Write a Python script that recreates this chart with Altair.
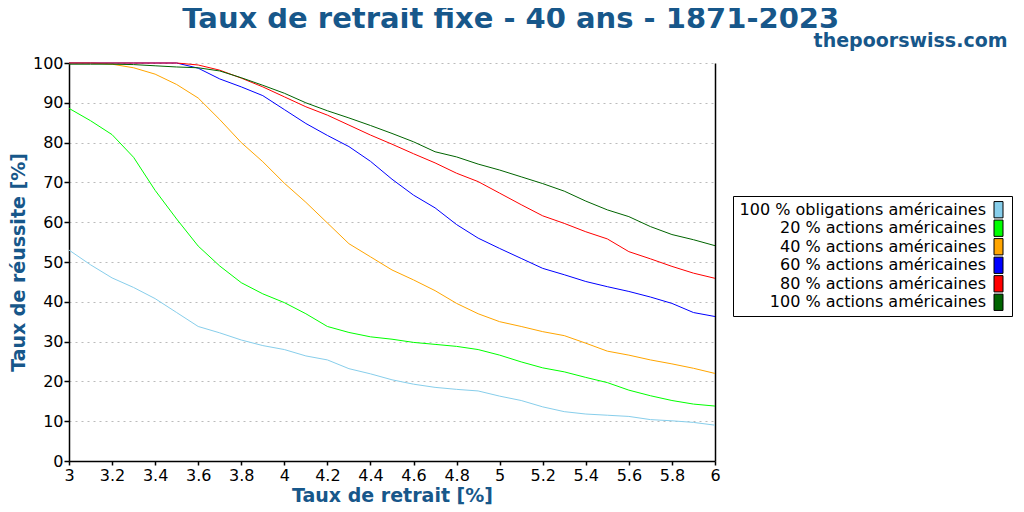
import altair as alt
import pandas as pd

rates = [3.0, 3.1, 3.2, 3.3, 3.4, 3.5, 3.6, 3.7, 3.8, 3.9,
         4.0, 4.1, 4.2, 4.3, 4.4, 4.5, 4.6, 4.7, 4.8, 4.9,
         5.0, 5.1, 5.2, 5.3, 5.4, 5.5, 5.6, 5.7, 5.8, 5.9, 6.0]

names = ["100 % obligations américaines", "20 % actions américaines",
         "40 % actions américaines", "60 % actions américaines",
         "80 % actions américaines", "100 % actions américaines"]
colors = ["#87ceeb", "#00ff00", "#ffa500", "#0000ff", "#ff0000", "#006400"]

bonds100 = [53.0, 49.3, 46.0, 43.6, 40.8, 37.3, 33.8, 32.2, 30.4, 29.0,
            28.0, 26.4, 25.4, 23.2, 21.9, 20.4, 19.3, 18.5, 18.0, 17.6,
            16.3, 15.2, 13.6, 12.4, 11.8, 11.5, 11.2, 10.4, 10.1, 9.7, 9.0]
stocks20 = [88.6, 85.5, 82.0, 76.3, 68.0, 60.8, 54.0, 49.0, 44.8, 42.0,
            39.8, 37.0, 33.8, 32.3, 31.2, 30.6, 29.8, 29.3, 28.8, 28.0,
            26.6, 24.9, 23.4, 22.4, 21.0, 19.7, 17.8, 16.4, 15.2, 14.3, 13.8]
stocks40 = [100.0, 100.0, 99.7, 98.8, 97.2, 94.6, 91.2, 85.8, 80.0, 75.2,
            69.8, 65.0, 59.8, 54.6, 51.3, 48.0, 45.5, 42.8, 39.6, 37.0,
            35.0, 33.8, 32.5, 31.5, 29.6, 27.6, 26.6, 25.4, 24.4, 23.3, 22.0]
stocks60 = [100.0, 100.0, 100.0, 100.0, 100.0, 100.0, 98.7, 96.0, 94.0, 91.8,
            88.3, 84.8, 81.8, 79.0, 75.3, 70.8, 66.8, 63.6, 59.4, 56.0,
            53.4, 50.9, 48.4, 46.8, 45.1, 43.8, 42.6, 41.2, 39.6, 37.3, 36.3]
stocks80 = [100.0, 100.0, 100.0, 100.0, 100.0, 100.0, 99.5, 98.2, 96.2, 94.0,
            91.5, 89.0, 86.9, 84.4, 81.9, 79.6, 77.2, 74.9, 72.3, 70.2,
            67.3, 64.4, 61.6, 59.7, 57.6, 55.8, 52.6, 50.8, 48.9, 47.2, 45.9]
stocks100 = [99.7, 99.7, 99.7, 99.6, 99.3, 99.0, 98.8, 98.0, 96.3, 94.4,
             92.4, 90.0, 88.0, 86.2, 84.3, 82.3, 80.2, 77.7, 76.4, 74.6,
             73.1, 71.4, 69.7, 67.8, 65.3, 63.1, 61.4, 58.9, 56.9, 55.6, 54.1]

series_values = [bonds100, stocks20, stocks40, stocks60, stocks80, stocks100]

x_ticks = [3.0, 3.2, 3.4, 3.6, 3.8, 4.0, 4.2, 4.4, 4.6, 4.8, 5.0, 5.2, 5.4, 5.6, 5.8, 6.0]
y_ticks = [0, 10, 20, 30, 40, 50, 60, 70, 80, 90, 100]

rows = []
for name, vals in zip(names, series_values):
    for r, v in zip(rates, vals):
        rows.append({"rate": r, "value": v, "series": name})
df = pd.DataFrame(rows)

FONT = "DejaVu Sans"
BLUE = "#17578a"

color_scale = alt.Scale(domain=names, range=colors)

lines = alt.Chart(df).mark_line(strokeWidth=1).encode(
    x=alt.X("rate:Q",
            scale=alt.Scale(domain=[3, 6], nice=False, zero=False),
            axis=alt.Axis(title="Taux de retrait [%]", values=x_ticks, format="~g",
                          grid=False, tickSize=4, labelPadding=2, labelFlush=False,
                          titlePadding=3)),
    y=alt.Y("value:Q",
            scale=alt.Scale(domain=[0, 100], nice=False),
            axis=alt.Axis(title="Taux de réussite [%]", values=y_ticks, grid=True,
                          gridDash=[2, 4], gridColor="#bbbbbb", tickSize=5,
                          labelPadding=1, titlePadding=4, labelFlush=False)),
    color=alt.Color("series:N", scale=color_scale, legend=None),
)

right_axis = alt.Chart(df).mark_point(opacity=0).encode(
    x=alt.X("rate:Q"),
    y=alt.Y("value:Q",
            axis=alt.Axis(orient="right", title=None, labels=False, ticks=False,
                          grid=False, domain=True)),
)

main = alt.layer(lines, right_axis).resolve_axis(y="independent").properties(
    width=646, height=398)

leg_df = pd.DataFrame({"series": names})

spacer = alt.Chart(leg_df).mark_text(opacity=0).encode(
    text="series:N", x=alt.value(0), y=alt.value(0)
).properties(width=279, height=133)

leg_base = alt.Chart(leg_df).encode(
    y=alt.Y("series:N", sort=names, axis=None,
            scale=alt.Scale(paddingInner=0.12, paddingOuter=0.3)))
leg_text = leg_base.mark_text(align="right", baseline="middle", fontSize=16,
                              font=FONT, color="black").encode(
    x=alt.value(253), text="series:N")
leg_rect = leg_base.mark_rect(stroke="black", strokeWidth=1).encode(
    x=alt.value(261), x2=alt.value(270),
    color=alt.Color("series:N", scale=color_scale, legend=None))
legend = alt.layer(leg_text, leg_rect).properties(
    width=279, height=120, view=alt.ViewBackground(stroke="black", strokeWidth=1))

legend_col = alt.vconcat(spacer, legend, spacing=0, bounds="flush")

inner = alt.hconcat(main, legend_col, spacing=18, bounds="flush").properties(
    title=alt.TitleParams("thepoorswiss.com", anchor="end", fontSize=19,
                          font=FONT, fontWeight="bold", color=BLUE, offset=2,
                          dx=-5, dy=-2))

chart = alt.vconcat(inner).properties(
    title=alt.TitleParams("Taux de retrait fixe - 40 ans - 1871-2023", anchor="middle",
                          fontSize=29, font=FONT, fontWeight="bold", color=BLUE,
                          offset=-2),
    padding={"left": 0, "top": -4, "right": 0, "bottom": 0},
).configure_view(stroke="transparent").configure_axis(
    labelFont=FONT, labelFontSize=16, labelColor="black",
    titleFont=FONT, titleFontSize=19, titleFontWeight="bold", titleColor=BLUE,
    domainColor="black", tickColor="black", domainWidth=1.5, tickWidth=1.5,
).configure_text(font=FONT)

chart.save("out.html", embed_options={"renderer": "svg", "actions": False})
